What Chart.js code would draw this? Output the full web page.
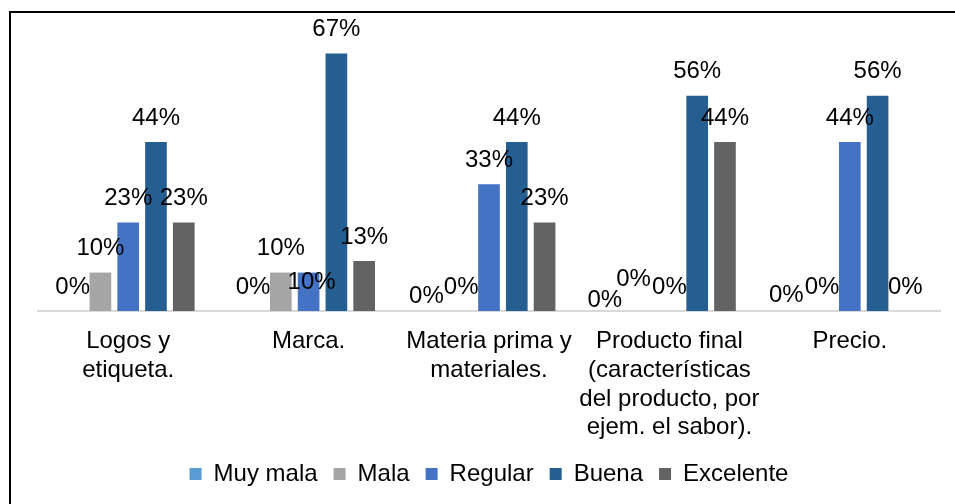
<!DOCTYPE html>
<html>
<head>
<meta charset="utf-8">
<script src="https://cdn.jsdelivr.net/npm/chart.js@4"></script>
<style>
  html, body { margin: 0; padding: 0; background: #fff; overflow: hidden; }
  #wrap { width: 955px; height: 504px; position: relative; }
</style>
</head>
<body>
<div id="wrap"><canvas id="chart" width="955" height="504"></canvas></div>
<script>
// categories (multi-line labels as in the original)
const categories = [
    ['Logos y', 'etiqueta.'],
    ['Marca.'],
    ['Materia prima y', 'materiales.'],
    ['Producto final', '(características', 'del producto, por', 'ejem. el sabor).'],
    ['Precio.']
];
const seriesNames = ['Muy mala', 'Mala', 'Regular', 'Buena', 'Excelente'];

// values in percent
const muyMala   = [0, 0, 0, 0, 0];
const mala      = [10, 10, 0, 0, 0];
const regular   = [23, 10, 33, 0, 44];
const buena     = [44, 67, 44, 56, 56];
const excelente = [23, 13, 23, 44, 0];

const colors = ['#5B9BD5', '#A5A5A5', '#4472C4', '#255E91', '#636363'];

// small nudges for labels Excel moved to avoid overlaps: 'dataset,index' -> [dx, dy]
const labelNudge = {
    '2,1': [3, 34],
    '0,2': [-7, 9],
    '0,3': [-9, 13],
    '1,3': [-8, -8],
    '0,4': [-8, 8]
};

const FONT = "'Liberation Sans', Arial, sans-serif";

const frame = {
    id: 'frame',
    beforeDraw(chart) {
        const ctx = chart.ctx;
        ctx.save();
        ctx.fillStyle = '#000';
        ctx.fillRect(9, 11, 2, chart.height);
        ctx.fillRect(9, 11, chart.width, 2);
        ctx.restore();
    }
};

const valueLabels = {
    id: 'valueLabels',
    afterDatasetsDraw(chart) {
        const ctx = chart.ctx;
        ctx.save();
        ctx.font = '24px ' + FONT;
        ctx.fillStyle = '#000';
        ctx.textAlign = 'center';
        ctx.textBaseline = 'middle';
        chart.data.datasets.forEach((ds, di) => {
            const meta = chart.getDatasetMeta(di);
            meta.data.forEach((bar, i) => {
                const n = labelNudge[di + ',' + i] || [0, 0];
                ctx.fillText(ds.data[i] + '%', bar.x + n[0], bar.y - 24 + n[1]);
            });
        });
        ctx.restore();
    }
};

const seriesData = [muyMala, mala, regular, buena, excelente];

new Chart(document.getElementById('chart'), {
    type: 'bar',
    data: {
        labels: categories,
        datasets: seriesNames.map((name, k) => ({
            label: name,
            data: seriesData[k],
            backgroundColor: colors[k],
            borderWidth: 0,
            categoryPercentage: 0.77,
            barPercentage: 0.78
        }))
    },
    options: {
        responsive: false,
        animation: false,
        layout: { padding: { left: 38, right: 15, top: 42, bottom: 8 } },
        plugins: {
            legend: {
                position: 'bottom',
                labels: {
                    boxWidth: 12,
                    boxHeight: 12,
                    padding: 16,
                    color: '#000',
                    font: { family: FONT, size: 24 }
                }
            },
            tooltip: { enabled: false },
            title: { display: false }
        },
        scales: {
            x: {
                grid: { display: false, drawTicks: false },
                border: { display: true, color: '#D9D9D9', width: 2 },
                ticks: {
                    color: '#000',
                    padding: 16,
                    maxRotation: 0,
                    autoSkip: false,
                    font: { family: FONT, size: 24, lineHeight: 1.2 }
                },
                afterFit(scale) { scale.height = 135; }
            },
            y: {
                display: false,
                min: 0,
                max: 70
            }
        }
    },
    plugins: [frame, valueLabels]
});
</script>
</body>
</html>
